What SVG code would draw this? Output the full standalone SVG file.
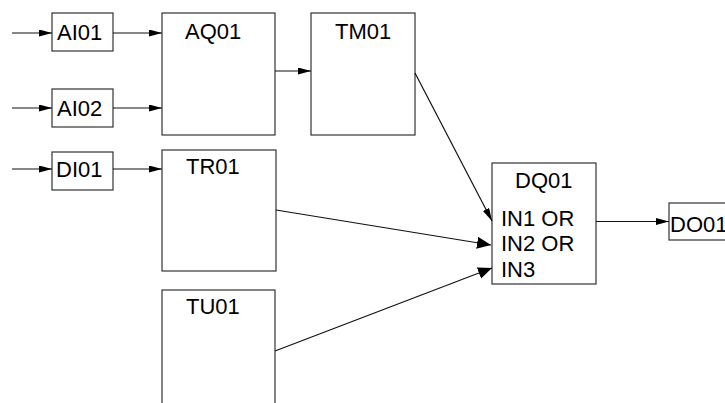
<svg xmlns="http://www.w3.org/2000/svg" width="725" height="403" viewBox="0 0 725 403">
<style>
.box{fill:#fff;stroke:#333;stroke-width:1.2}
.t{font-family:"Liberation Sans",Arial,sans-serif;font-size:22px;fill:#000}
.c{fill:none;stroke:#111;stroke-width:1.2}
</style>
<defs>
<marker id="an" markerUnits="userSpaceOnUse" markerWidth="14" markerHeight="8" refX="13" refY="3.5" orient="auto"><path d="M0,0 L13,3.5 L0,7 z" fill="#000"/></marker>
<marker id="aw" markerUnits="userSpaceOnUse" markerWidth="15" markerHeight="13" refX="14" refY="6" orient="auto"><path d="M0,0 L14,6 L0,12 z" fill="#000"/></marker>
</defs>
<rect width="725" height="403" fill="#fff"/>
<g id="AI01"><rect class="box" x="52" y="13" width="61" height="38"/><text class="t" x="57" y="40">AI01</text></g>
<g id="AI02"><rect class="box" x="52" y="89" width="61" height="38"/><text class="t" x="57" y="115.5">AI02</text></g>
<g id="DI01"><rect class="box" x="52" y="152" width="61" height="38"/><text class="t" x="56" y="177">DI01</text></g>
<g id="AQ01"><rect class="box" x="162" y="13" width="113" height="122"/><text class="t" x="185" y="38.5">AQ01</text></g>
<g id="TM01"><rect class="box" x="311" y="13" width="104" height="122"/><text class="t" x="335" y="38.5">TM01</text></g>
<g id="TR01"><rect class="box" x="162" y="150" width="114" height="121"/><text class="t" x="186" y="173.5">TR01</text></g>
<g id="TU01"><rect class="box" x="162" y="290" width="113" height="130"/><text class="t" x="186" y="314">TU01</text></g>
<g id="DQ01"><rect class="box" x="492" y="163" width="104" height="121"/><text class="t" x="515" y="188">DQ01</text><text class="t" x="501" y="226">IN1 OR</text><text class="t" x="501" y="251">IN2 OR</text><text class="t" x="501" y="276.5">IN3</text></g>
<g id="DO01"><rect class="box" x="669" y="203" width="70" height="37"/><text class="t" x="670" y="231.5">DO01</text></g>
<g id="connectors">
<line class="c" x1="12" y1="33" x2="52" y2="33" marker-end="url(#an)"/>
<line class="c" x1="113" y1="33" x2="162" y2="33" marker-end="url(#an)"/>
<line class="c" x1="12" y1="108" x2="52" y2="108" marker-end="url(#an)"/>
<line class="c" x1="113" y1="108" x2="162" y2="108" marker-end="url(#an)"/>
<line class="c" x1="12" y1="169" x2="52" y2="169" marker-end="url(#an)"/>
<line class="c" x1="113" y1="169" x2="162" y2="169" marker-end="url(#an)"/>
<line class="c" x1="275" y1="71" x2="311" y2="71" marker-end="url(#an)"/>
<line class="c" x1="415" y1="73" x2="492" y2="221" marker-end="url(#an)"/>
<line class="c" x1="276" y1="210" x2="491" y2="245" marker-end="url(#aw)"/>
<line class="c" x1="275" y1="351" x2="492" y2="268" marker-end="url(#aw)"/>
<line class="c" x1="596" y1="221.5" x2="669" y2="221.5" marker-end="url(#an)"/>
</g>
</svg>
